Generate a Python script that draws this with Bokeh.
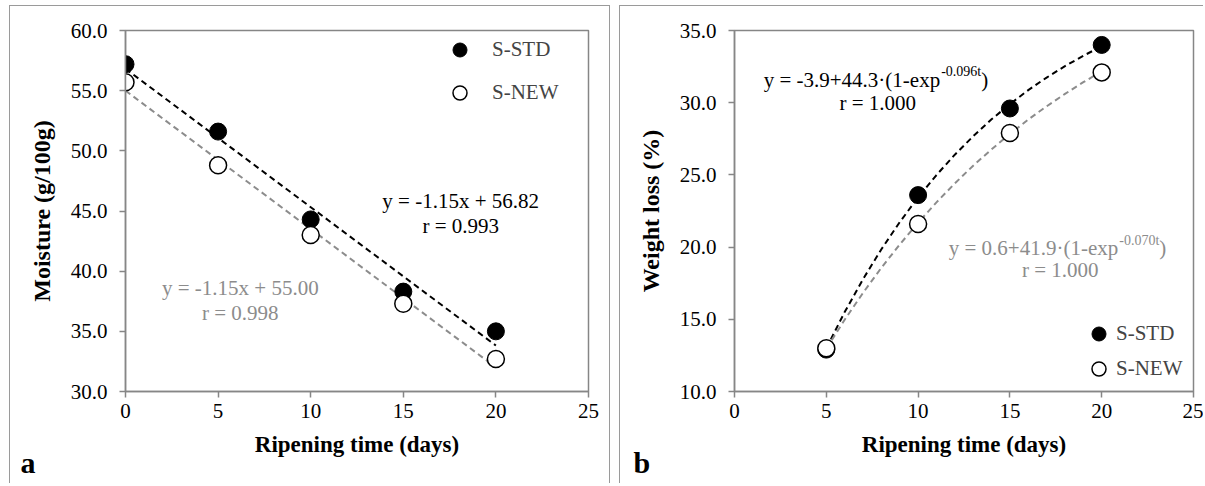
from bokeh.plotting import figure
from bokeh.layouts import row
from bokeh.models import Label, Legend, LegendItem, Range1d, FixedTicker, NumeralTickFormatter, Title
from bokeh.embed import file_html
from bokeh.resources import INLINE

# ---------------- data ----------------
days_a = [0, 5, 10, 15, 20]
moisture_std = [57.2, 51.6, 44.3, 38.3, 35.0]
moisture_new = [55.7, 48.8, 43.0, 37.3, 32.7]
fit_days_a = [0, 20]
fit_moisture_std = [56.82, 33.82]
fit_moisture_new = [55.00, 32.00]

days_b = [5, 10, 15, 20]
weight_std = [12.9, 23.6, 29.6, 34.0]
weight_new = [13.0, 21.6, 27.9, 32.1]
curve_days = [5, 6, 7, 8, 9, 10, 11, 12, 13, 14, 15, 16, 17, 18, 19, 20]
curve_std = [12.99, 15.50, 17.78, 19.85, 21.73, 23.44, 24.99, 26.40, 27.68, 28.85,
             29.90, 30.87, 31.74, 32.53, 33.25, 33.91]
curve_new = [12.97, 14.97, 16.83, 18.57, 20.18, 21.69, 23.10, 24.41, 25.64, 26.77,
             27.84, 28.83, 29.75, 30.61, 31.42, 32.17]

x_ticks = [0, 5, 10, 15, 20, 25]
y_ticks_a = [30, 35, 40, 45, 50, 55, 60]
y_ticks_b = [10, 15, 20, 25, 30, 35]

FONT = "Liberation Serif"
AX = "#868686"
GRAY = "#8c8c8c"
BORDER = "1px solid #9a9a9a"


def make_fig(width, y_rng, yticks, ylabel, mbl, mbr, border_css):
    p = figure(width=width, height=478, output_backend="svg", toolbar_location=None,
               x_range=Range1d(0, 25), y_range=Range1d(*y_rng),
               min_border_left=mbl, min_border_right=mbr,
               min_border_top=24, min_border_bottom=93,
               styles=border_css)
    p.grid.visible = False
    p.outline_line_color = AX
    p.outline_line_width = 1.5
    p.background_fill_color = "white"
    p.border_fill_color = "white"
    p.xaxis.ticker = FixedTicker(ticks=x_ticks)
    p.yaxis.ticker = FixedTicker(ticks=yticks)
    p.yaxis.formatter = NumeralTickFormatter(format="0.0")
    for ax in (p.xaxis, p.yaxis):
        ax.axis_line_color = AX
        ax.axis_line_width = 1.5
        ax.major_tick_line_color = AX
        ax.major_tick_line_width = 1.5
        ax.major_tick_in = 0
        ax.major_tick_out = 6
        ax.minor_tick_line_color = None
        ax.major_label_text_font = FONT
        ax.major_label_text_font_size = "21px"
        ax.major_label_text_color = "black"
        ax.axis_label_text_font = FONT
        ax.axis_label_text_font_style = "bold"
        ax.axis_label_text_color = "black"
    p.xaxis.axis_label_text_font_size = "23px"
    p.yaxis.axis_label_text_font_size = "24px"
    p.xaxis.major_label_standoff = 6
    p.xaxis.axis_label_standoff = 11
    p.yaxis.major_label_standoff = 12
    p.yaxis.axis_label_standoff = 13
    p.xaxis.axis_label = "Ripening time (days)"
    p.yaxis.axis_label = ylabel
    return p


def lbl(p, x, y, text, color="black", size="21px", align="center", xo=0, yo=0):
    p.add_layout(Label(x=x, y=y, text=text,
                       text_font=FONT, text_font_size=size, text_color=color,
                       text_align=align, text_baseline="middle", x_offset=xo, y_offset=yo))


def panel_tag(p, text, offset):
    p.add_layout(Title(text=text, align="left", offset=offset, standoff=-31,
                       text_font=FONT, text_font_size="30px", text_font_style="bold",
                       text_color="black"), "below")


# ---------------- panel a ----------------
pa = make_fig(601, (30, 60), y_ticks_a, "Moisture (g/100g)", 115, 23,
              {"border-top": BORDER, "border-left": BORDER, "border-right": BORDER})
pa.line(fit_days_a, fit_moisture_std, line_color="black", line_width=2, line_dash="6 4")
pa.line(fit_days_a, fit_moisture_new, line_color=GRAY, line_width=2, line_dash="6 4")
ra_std = pa.scatter(days_a, moisture_std, size=17, fill_color="black", line_color="black")
ra_new = pa.scatter(days_a, moisture_new, size=17, fill_color="white", line_color="black",
                    line_width=1.5)
leg_a = Legend(items=[LegendItem(label="S-STD", renderers=[ra_std]),
                      LegendItem(label="S-NEW", renderers=[ra_new])],
               location=(317, 281), orientation="vertical", padding=0, margin=0,
               spacing=8, glyph_width=35, glyph_height=35, label_standoff=15,
               label_text_font=FONT, label_text_font_size="21px",
               border_line_color=None, background_fill_alpha=0)
pa.add_layout(leg_a)
lbl(pa, 18.1, 45.83, "y = -1.15x + 56.82")
lbl(pa, 18.1, 43.75, "r = 0.993")
lbl(pa, 6.2, 38.58, "y = -1.15x + 55.00", color=GRAY)
lbl(pa, 6.2, 36.5, "r = 0.998", color=GRAY)
panel_tag(pa, "a", -105)

# ---------------- panel b ----------------
pb = make_fig(584, (10, 35), y_ticks_b, "Weight loss (%)", 114, 11,
              {"border-top": BORDER, "border-left": BORDER})
pb.line(curve_days, curve_std, line_color="black", line_width=2, line_dash="6 4")
pb.line(curve_days, curve_new, line_color=GRAY, line_width=2, line_dash="6 4")
rb_std = pb.scatter(days_b, weight_std, size=17, fill_color="black", line_color="black")
rb_new = pb.scatter(days_b, weight_new, size=17, fill_color="white", line_color="black",
                    line_width=1.5)
leg_b = Legend(items=[LegendItem(label="S-STD", renderers=[rb_std]),
                      LegendItem(label="S-NEW", renderers=[rb_new])],
               location=(347, 5), orientation="vertical", padding=0, margin=0,
               spacing=0, glyph_width=35, glyph_height=35, label_standoff=0,
               label_text_font=FONT, label_text_font_size="21px",
               border_line_color=None, background_fill_alpha=0)
pb.add_layout(leg_b)
# black equation with superscript
lbl(pb, 11.2, 31.6, "y = -3.9+44.3\u00b7(1-exp", align="right")
lbl(pb, 11.2, 31.6, "-0.096t", size="14px", align="left", xo=1, yo=8)
lbl(pb, 11.2, 31.6, ")", align="left", xo=41)
lbl(pb, 7.8, 30.0, "r = 1.000")
# gray equation with superscript
lbl(pb, 20.9, 19.93, "y = 0.6+41.9\u00b7(1-exp", color=GRAY, align="right")
lbl(pb, 20.9, 19.93, "-0.070t", color=GRAY, size="14px", align="left", xo=1, yo=8)
lbl(pb, 20.9, 19.93, ")", color=GRAY, align="left", xo=41)
lbl(pb, 17.74, 18.4, "r = 1.000", color=GRAY)
panel_tag(pb, "b", -101)

layout = row(pa, pb, spacing=9, margin=(5, 0, 0, 9))
open("out.html", "w").write(file_html(layout, INLINE))
